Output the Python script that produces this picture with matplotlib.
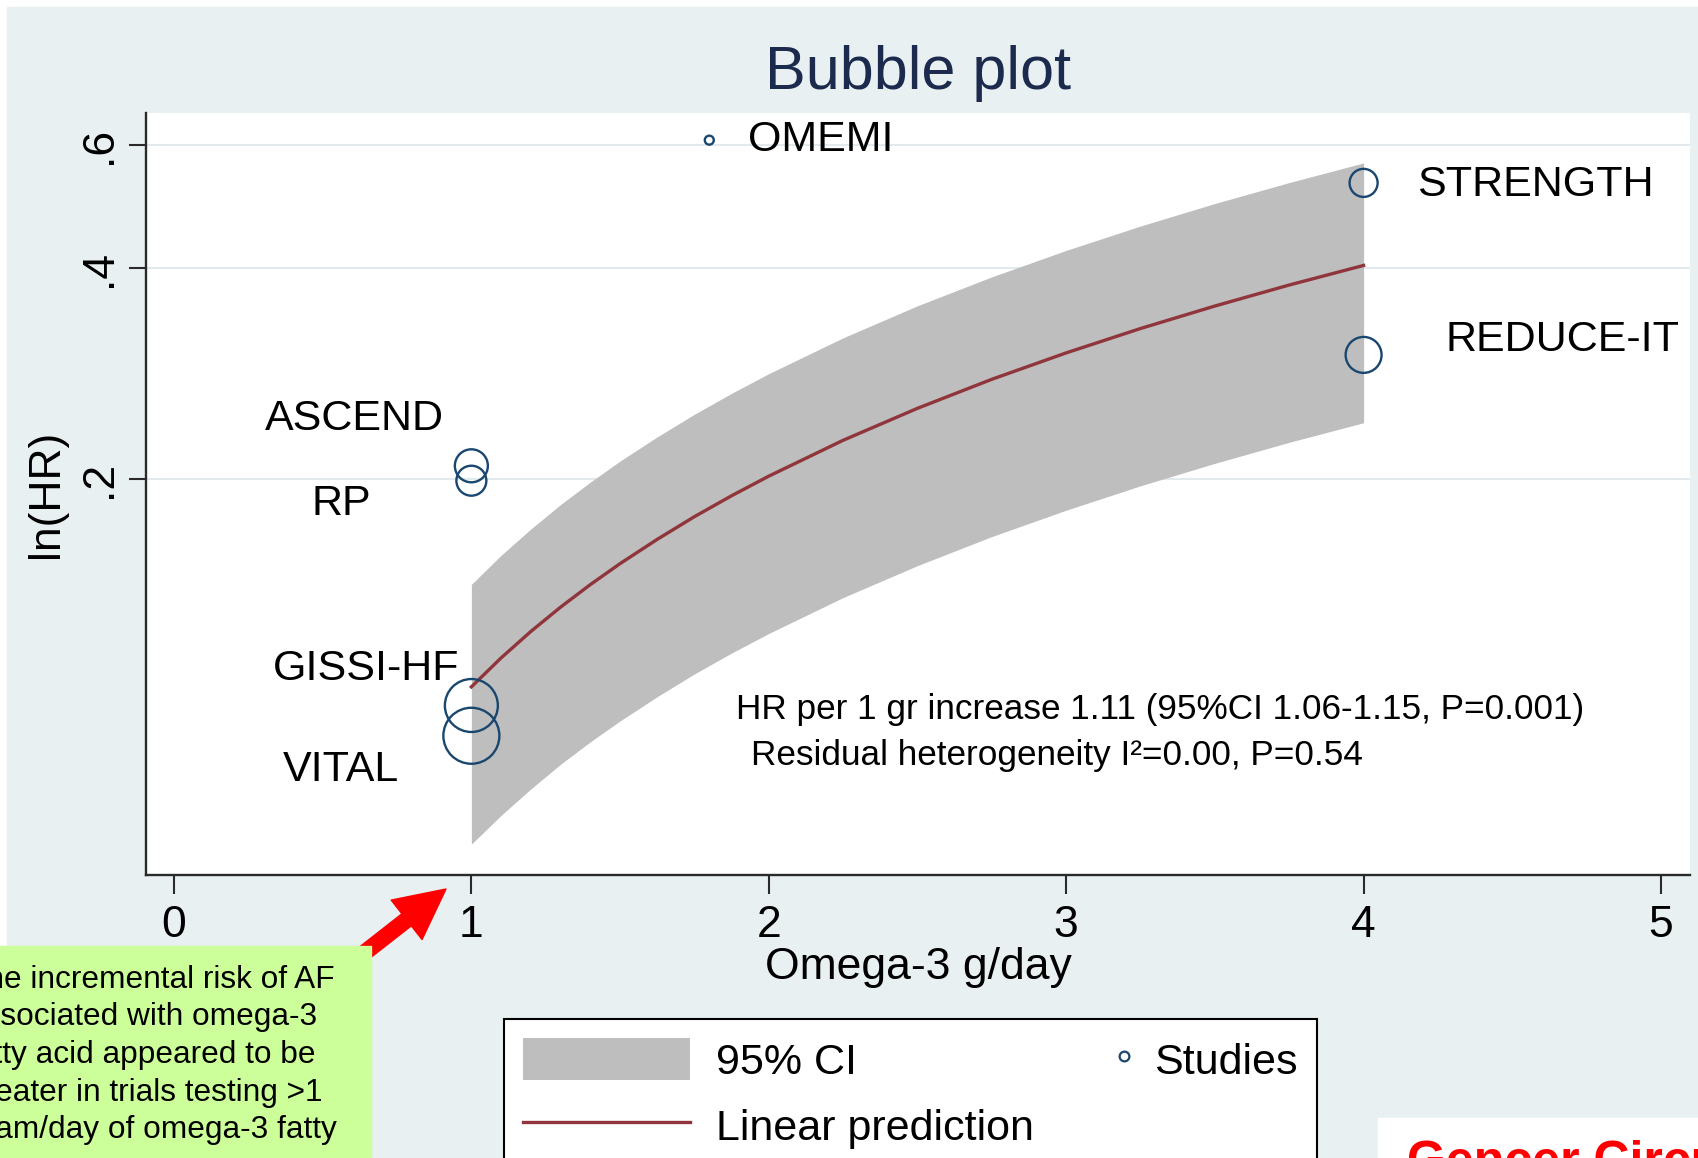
import numpy as np
import matplotlib
matplotlib.use("Agg")
import matplotlib.pyplot as plt
from matplotlib.patches import Rectangle, FancyArrowPatch
from matplotlib.lines import Line2D
from matplotlib.legend_handler import HandlerLine2D
from matplotlib.ticker import NullLocator

plt.rcParams['font.family'] = ['Liberation Sans', 'DejaVu Sans']

# studies: omega-3 dose (g/day), ln(HR), relative weight (%)
studies = ["OMEMI", "STRENGTH", "REDUCE-IT", "ASCEND", "RP", "GISSI-HF", "VITAL"]
dose = [1.8, 4, 4, 1, 1, 1, 1]
ln_hr = [0.610, 0.530, 0.301, 0.209, 0.199, 0.095, 0.086]
weight = [0.8, 7.8, 12.8, 10.8, 8.9, 27.8, 31.1]

# meta-regression line and 95% CI band
fit_x = [1.0, 1.1, 1.2, 1.3, 1.4, 1.5, 1.625, 1.75, 1.875, 2.0,
         2.25, 2.5, 2.75, 3.0, 3.25, 3.5, 3.75, 4.0]
fit_y = [0.1010, 0.1111, 0.1212, 0.1313, 0.1414, 0.1515, 0.1641, 0.1768, 0.1894, 0.2020,
         0.2273, 0.2525, 0.2778, 0.3030, 0.3283, 0.3535, 0.3788, 0.4040]
ci_lo = [0.0602, 0.0662, 0.0722, 0.0783, 0.0843, 0.0903, 0.0978, 0.1054, 0.1129, 0.1204,
         0.1355, 0.1505, 0.1656, 0.1806, 0.1957, 0.2107, 0.2258, 0.2408]
ci_hi = [0.1415, 0.1557, 0.1698, 0.1840, 0.1981, 0.2123, 0.2299, 0.2476, 0.2653, 0.2830,
         0.3184, 0.3538, 0.3891, 0.4245, 0.4599, 0.4953, 0.5306, 0.5660]

x_ticks = [0, 1, 2, 3, 4, 5]
y_ticks = [0.2, 0.4, 0.6]
y_ticklabels = [".2", ".4", ".6"]

note_lines = ["The incremental risk of AF",
              "associated with omega-3",
              "fatty acid appeared to be",
              "greater in trials testing >1",
              "gram/day of omega-3 fatty"]

W, H = 1699, 1158
bg = '#e8f0f2'
navy = '#1a476f'
band = '#bebebe'
maroon = '#90353b'

def fx(px):
    return px / W

def fy(py):
    return 1 - py / H

fig = plt.figure(figsize=(W / 100, H / 100), dpi=100, facecolor='white')
fig.add_artist(Rectangle((fx(7), fy(H + 20)), 1.0, fy(7) - fy(H + 20),
                         transform=fig.transFigure, color=bg, zorder=-5))

ax = fig.add_axes([fx(146), fy(875), fx(1690) - fx(146), fy(113) - fy(875)])
ax.set_facecolor('white')
ax.set_axisbelow(True)

ci = ax.fill_between(fit_x, ci_lo, ci_hi, color=band, lw=0, zorder=1)
line, = ax.plot(fit_x, fit_y, color=maroon, lw=2.4, zorder=2)
ax.scatter(dose, ln_hr, s=np.array(weight) * 52.3, facecolors='none',
           edgecolors=navy, linewidths=1.7, zorder=3)

# label placement (pixels from marker)
offsets = {"OMEMI": (39, 0, 'left'), "STRENGTH": (53, -2, 'left'),
           "REDUCE-IT": (82, 15, 'left'), "ASCEND": (-27, 47, 'right'),
           "RP": (-100, -23, 'right'), "GISSI-HF": (-12, 37, 'right'),
           "VITAL": (-72, -34, 'right')}
for name, xv, yv in zip(studies, dose, ln_hr):
    dx, dy, ha = offsets[name]
    ax.annotate(name, (xv, yv), xytext=(dx, dy), textcoords='offset pixels',
                ha=ha, va='center', fontsize=31, color='black')

ax.set_yscale('log')
ax.set_xlim(-0.094, 5.0975)
ax.set_ylim(0.0544, 0.667)
ax.set_xticks(x_ticks)
ax.set_yticks(y_ticks)
ax.set_yticklabels(y_ticklabels)
ax.yaxis.set_minor_locator(NullLocator())
ax.grid(axis='y', color='#e2eaed', lw=1.5)

for s in ['top', 'right']:
    ax.spines[s].set_visible(False)
for s in ['left', 'bottom']:
    ax.spines[s].set_linewidth(1.7)
    ax.spines[s].set_color('#2a2a2a')
ax.tick_params(axis='x', length=13.5, width=1.5, color='#2a2a2a', labelsize=32, pad=8)
ax.tick_params(axis='y', length=12.5, width=1.5, color='#2a2a2a', labelsize=32, pad=6,
               labelrotation=90)
for t in ax.get_yticklabels():
    t.set_va('center')

ax.set_title('Bubble plot', fontsize=44, color='#1c2b4d', pad=17)
ax.set_xlabel('Omega-3 g/day', fontsize=32)
ax.xaxis.set_label_coords(0.5, (875 - 967) / 762)
ax.xaxis.label.set_va('center')
ax.set_ylabel('ln(HR)', fontsize=32)
ax.yaxis.set_label_coords((47 - 146) / 1544, 0.5)
ax.yaxis.label.set_va('center')

ax.text((736 - 146) / 1544, (875 - 710) / 762,
        'HR per 1 gr increase 1.11 (95%CI 1.06-1.15, P=0.001)',
        transform=ax.transAxes, fontsize=25.3, va='center')
ax.text((751 - 146) / 1544, (875 - 755) / 762,
        'Residual heterogeneity I\u00b2=0.00, P=0.54',
        transform=ax.transAxes, fontsize=25.3, va='center')


class RightMarker(HandlerLine2D):
    def get_xdata(self, legend, xdescent, ydescent, width, height, fontsize):
        xm = width - xdescent - 3
        return [xm], [xm]


studies_handle = Line2D([], [], ls='none', marker='o', ms=7, mfc='none',
                        mec=navy, mew=1.6)
leg = ax.legend([ci, line, studies_handle], ['95% CI', 'Linear prediction', 'Studies'],
                ncol=2, loc='upper left', bbox_to_anchor=(fx(504), fy(1019)),
                bbox_transform=fig.transFigure, borderaxespad=0, fontsize=31,
                fancybox=False, edgecolor='black', framealpha=1,
                borderpad=0.45, handlelength=3.88, handleheight=1.1,
                handletextpad=0.6, labelspacing=0.5, columnspacing=-1.7,
                handler_map={studies_handle: RightMarker()})
leg.get_frame().set_linewidth(1.5)

# red arrow and green note box at bottom left
arrow = FancyArrowPatch((fx(345), fy(968)), (fx(446), fy(889)),
                        transform=fig.transFigure,
                        arrowstyle='simple,head_length=36,head_width=36,tail_width=11',
                        mutation_scale=1, color='red', shrinkA=0, shrinkB=0, zorder=2)
fig.add_artist(arrow)
fig.add_artist(Rectangle((fx(-20), fy(H + 20)), fx(391), fy(946) - fy(H + 20),
                         transform=fig.transFigure, color='#ccff99', zorder=3))
for i, txt in enumerate(note_lines):
    fig.text(fx(-33), fy(988 + 37.5 * i), txt, fontsize=22.8, va='baseline',
             ha='left', zorder=4)

# source box at bottom right
fig.add_artist(Rectangle((fx(1378), fy(H + 20)), fx(400), fy(1118) - fy(H + 20),
                         transform=fig.transFigure, color='white', zorder=3))
fig.text(fx(1407), fy(1176), 'Gencer Circulation', fontsize=36, fontweight='bold',
         color='red', va='baseline', ha='left', zorder=4)

fig.savefig('out.png', dpi=100, facecolor=fig.get_facecolor())
